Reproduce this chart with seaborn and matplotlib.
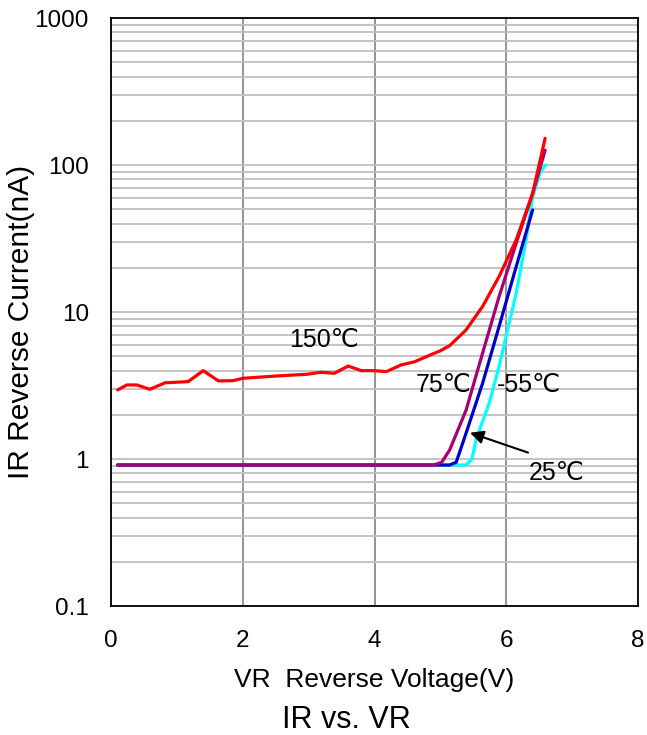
import numpy as np
import pandas as pd
import matplotlib
matplotlib.use('Agg')
import matplotlib.pyplot as plt
from matplotlib.ticker import FixedLocator, NullFormatter
import seaborn as sns

# Reverse voltage (V) and reverse current (nA)
vr_150 = [0.10, 0.24, 0.39, 0.59, 0.82, 1.17, 1.40, 1.63, 1.85, 2.00, 2.51, 2.97, 3.19,
          3.39, 3.60, 3.80, 4.00, 4.18, 4.40, 4.61, 4.81, 5.00, 5.14, 5.39, 5.64, 5.89,
          6.15, 6.40, 6.59]
ir_150 = [2.95, 3.19, 3.19, 2.98, 3.30, 3.36, 3.99, 3.40, 3.41, 3.54, 3.67, 3.77, 3.89,
          3.83, 4.29, 3.99, 3.99, 3.93, 4.36, 4.59, 5.02, 5.45, 5.90, 7.55, 10.9, 17.4,
          30.9, 64.0, 152.0]

vr_75 = [0.10, 4.90, 5.02, 5.14, 5.39, 5.64, 5.89, 6.15, 6.40, 6.59]
ir_75 = [0.91, 0.91, 0.95, 1.15, 2.15, 5.24, 12.7, 29.3, 64.0, 126.0]

vr_25 = [0.10, 5.14, 5.24, 5.39, 5.64, 5.89, 6.15, 6.40]
ir_25 = [0.91, 0.91, 0.95, 1.50, 3.27, 7.94, 20.3, 49.4]

vr_m55 = [0.10, 5.39, 5.48, 5.54, 5.74, 5.89, 6.15, 6.30, 6.40, 6.52, 6.60]
ir_m55 = [0.91, 0.91, 1.00, 1.35, 2.39, 4.25, 13.4, 30.9, 60.8, 90.0, 100.0]

x_ticks = [0, 2, 4, 6, 8]
y_ticks = [0.1, 1, 10, 100, 1000]
y_tick_labels = ['0.1', '1', '10', '100', '1000']

sns.set_style('white')
plt.rcParams['font.family'] = ['Liberation Sans', 'DejaVu Sans']
plt.rcParams['text.color'] = 'black'
plt.rcParams['axes.labelcolor'] = 'black'
plt.rcParams['xtick.color'] = 'black'
plt.rcParams['ytick.color'] = 'black'

fig = plt.figure(figsize=(6.47, 7.35), dpi=100)
ax = fig.add_axes([0.1716, 0.1755, 0.8145, 0.8])

series = [
    (vr_m55, ir_m55, '#00FFFF'),
    (vr_25, ir_25, '#0000CC'),
    (vr_75, ir_75, '#A8006E'),
    (vr_150, ir_150, '#FF0000'),
]
for vr, ir, color in series:
    df = pd.DataFrame({'VR': vr, 'IR': ir})
    sns.lineplot(data=df, x='VR', y='IR', color=color, linewidth=2.3, ax=ax,
                 sort=False, estimator=None)

ax.set_yscale('log')
ax.set_xlim(0, 8)
ax.set_ylim(0.1, 1000)
ax.set_xticks(x_ticks)
ax.set_xticklabels([str(t) for t in x_ticks])
ax.yaxis.set_major_locator(FixedLocator(y_ticks))
ax.set_yticklabels(y_tick_labels)
minor = [m * 10.0 ** e for e in range(-1, 3) for m in range(2, 10)]
ax.yaxis.set_minor_locator(FixedLocator(minor))
ax.yaxis.set_minor_formatter(NullFormatter())
ax.tick_params(axis='both', which='both', length=0, labelsize=17.5)
ax.tick_params(axis='y', pad=16)
ax.tick_params(axis='x', pad=17)

ax.grid(True, axis='y', which='both', color='#BFBFBF', linewidth=1.3)
ax.grid(True, axis='x', which='major', color='#8C8C8C', linewidth=1.3)
ax.set_axisbelow(True)
for sp in ax.spines.values():
    sp.set_color('#000000')
    sp.set_linewidth(1.3)

ax.set_xlabel('VR  Reverse Voltage(V)', fontsize=19, labelpad=12)
ax.set_ylabel('IR Reverse Current(nA)', fontsize=21.5)
ax.yaxis.set_label_coords(-0.145, 0.483)

ax.text(3.24, 6.45, '150℃', fontsize=18, ha='center', va='center')
ax.text(5.05, 3.19, '75℃', fontsize=18, ha='center', va='center')
ax.text(6.35, 3.19, '-55℃', fontsize=18, ha='center', va='center')
ax.text(6.76, 0.80, '25℃', fontsize=18, ha='center', va='center')
ax.annotate('', xy=(5.41, 1.53), xytext=(6.37, 1.09),
            arrowprops=dict(arrowstyle='-|>', color='black', lw=1.5,
                            mutation_scale=20))

fig.text(0.535, 0.021, 'IR vs. VR', fontsize=22, ha='center', va='center')

fig.savefig('out.png', dpi=100)
